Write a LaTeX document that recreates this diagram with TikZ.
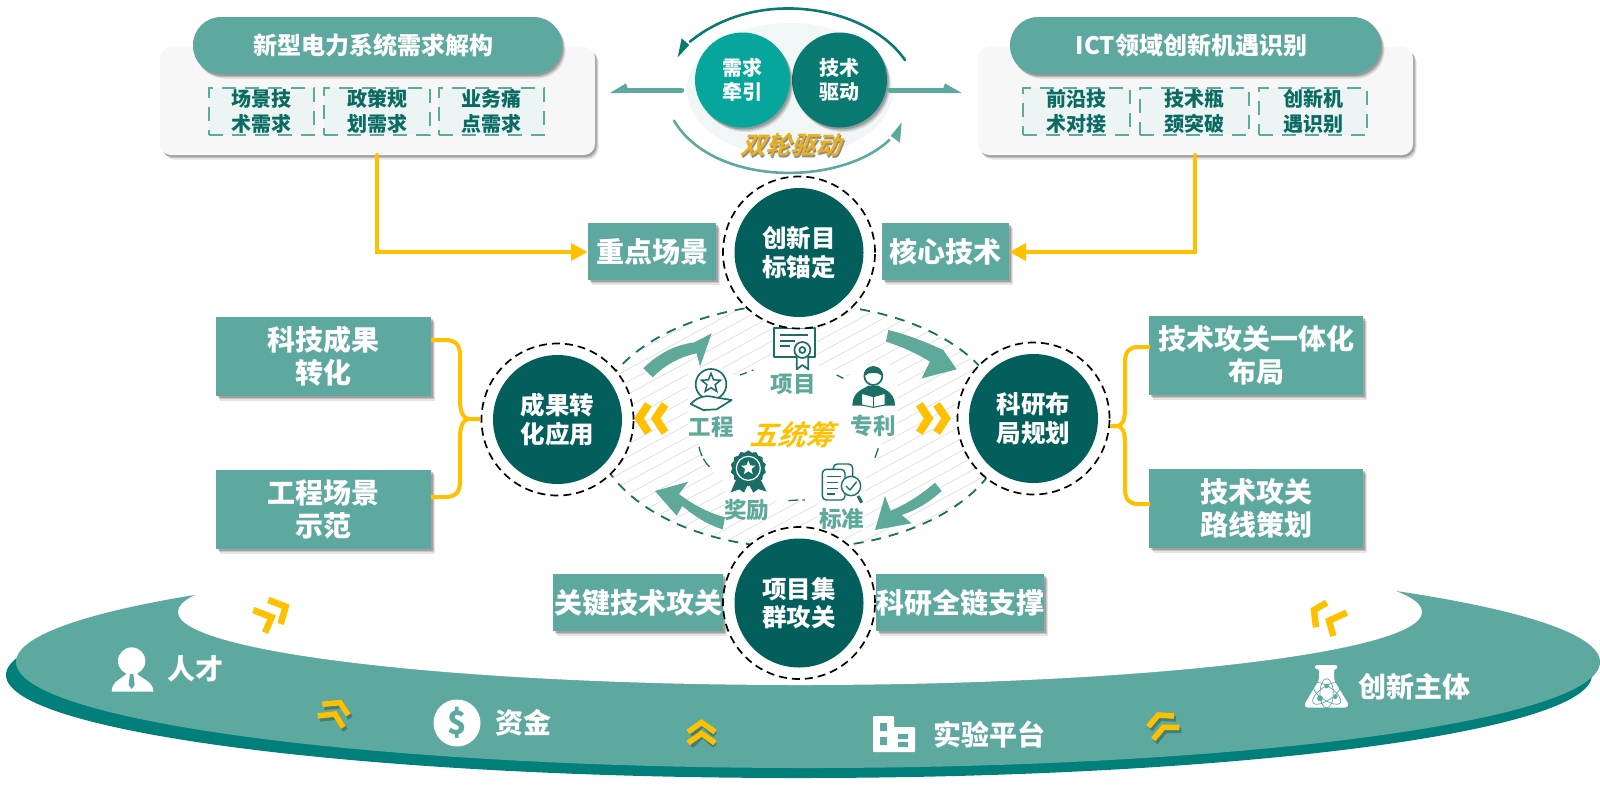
\documentclass[tikz,border=0pt]{standalone}
\usepackage{fontspec}
\usetikzlibrary{shadows,shapes.geometric}
\newfontfamily\cjk{Noto Sans CJK SC}
\newfontfamily\cjkit[FakeSlant=0.35]{Noto Sans CJK SC Bold}
\definecolor{tealbox}{HTML}{5DA9A0}
\definecolor{tealdark}{HTML}{025F5C}
\definecolor{tealring}{HTML}{007F7B}
\definecolor{tealtxt}{HTML}{0B6B63}
\definecolor{tealicon}{HTML}{1B6E66}
\definecolor{tealarrow}{HTML}{5EA99A}
\definecolor{amber}{HTML}{FFC000}
\definecolor{wheelA}{HTML}{06A69C}
\definecolor{wheelB}{HTML}{087A72}
\definecolor{goldtxt}{HTML}{ECB01E}
\tikzset{
  softshadow/.style={
    drop shadow={shadow xshift=3.5pt,shadow yshift=-4.5pt,opacity=.10,fill=black},
    drop shadow={shadow xshift=2.5pt,shadow yshift=-3.2pt,opacity=.14,fill=black},
    drop shadow={shadow xshift=1.5pt,shadow yshift=-2pt,opacity=.18,fill=black}},
  tbox/.style={rectangle,fill=tealbox,softshadow,inner sep=0pt,text=white,align=center,
    font=\cjk\bfseries\fontsize{28}{33}\selectfont},
  panel/.style={rectangle,rounded corners=11pt,fill=black!3,softshadow,inner sep=0pt,minimum height=108pt},
  pill/.style={rectangle,rounded corners=28pt,fill=tealbox,softshadow,inner sep=0pt,minimum height=57pt,text=white,
    font=\cjk\bfseries\fontsize{24}{28}\selectfont},
  dbox/.style={rectangle,fill=tealbox!12,draw=tealbox,line width=1.3pt,dash pattern=on 14pt off 9pt,inner sep=0pt,minimum height=47pt,
    text=tealtxt,align=center,font=\cjk\bfseries\fontsize{20}{25}\selectfont},
  ringc/.style={circle,fill=white,draw=black,line width=1.7pt,dash pattern=on 8pt off 5pt,minimum size=152pt,inner sep=0pt},
  core/.style={circle,fill=tealdark,minimum size=129pt,inner sep=0pt,text=white,align=center,
    font=\cjk\bfseries\fontsize{24.5}{28.5}\selectfont},
  wheel/.style={circle,minimum size=95pt,inner sep=0pt,text=white,align=center,softshadow,
    font=\cjk\bfseries\fontsize{20}{24}\selectfont},
  yline/.style={draw=amber,line width=4pt,line cap=round,line join=round},
  chev/.style={draw=amber,line width=5.5pt,line join=miter},
  chevb/.style={draw=amber,line width=6.5pt,line join=miter},
  chevsh/.style={draw=black,opacity=.25,line width=5.5pt,line join=miter},
  chevw/.style={draw=amber,line width=8pt,line join=miter},
  icon/.style={draw=tealicon,line width=1.7pt,line join=round},
  ilabel/.style={inner sep=0pt,text=tealarrow,font=\cjk\bfseries\fontsize{22.5}{24}\selectfont},
  rlabel/.style={inner sep=0pt,text=white,font=\cjk\bfseries\fontsize{28}{30}\selectfont},
  bigarrow/.style={fill=tealarrow},
}
\begin{document}
\begin{tikzpicture}[x=1pt,y=-1pt]
\useasboundingbox (0,0) rectangle (1600,788);
% base ring
\fill[tealring] (799,675) ellipse [x radius=793,y radius=103];
\fill[tealbox] (808,662) ellipse [x radius=792,y radius=106];
\fill[white] (800,612) ellipse [x radius=622,y radius=73];
% top panels
\node[panel,minimum width=435pt] (lp) at (377.5,101) {};
\node[pill,minimum width=369pt] (lh) at (377.5,45.5) {\hspace*{-8pt}新型电力系统需求解构};
\node[dbox,minimum width=105pt] (l1) at (261.5,111.5) {场景技\\术需求};
\node[dbox,minimum width=106pt] (l2) at (377,111.5) {政策规\\划需求};
\node[dbox,minimum width=105pt] (l3) at (491.5,111.5) {业务痛\\点需求};
\node[panel,minimum width=435pt] (rp) at (1195.5,101) {};
\node[pill,minimum width=371pt] (rh) at (1195.5,45.5) {\hspace*{-8pt}ICT领域创新机遇识别};
\node[dbox,minimum width=107pt] (r1) at (1076.5,111.5) {前沿技\\术对接};
\node[dbox,minimum width=109pt] (r2) at (1194.5,111.5) {技术瓶\\颈突破};
\node[dbox,minimum width=108pt] (r3) at (1313,111.5) {创新机\\遇识别};
% double wheel
\fill[tealbox!9] (790,90) ellipse [x radius=103,y radius=67];
\node[wheel,fill=wheelB] (js) at (839.5,80) {技术\\驱动};
\node[wheel,fill=wheelA] (cq) at (742.5,80) {需求\\牵引};
\begin{scope}[shift={(600,0)},scale=1/3]
  \coordinate (tb) at (915,180); \coordinate (te) at (270,125);
  \coordinate (bb) at (222,362); \coordinate (be) at (868,420);
  \coordinate (la) at (245,270); \coordinate (lb) at (80,270);
  \coordinate (ra) at (870,270); \coordinate (rb) at (1035,270);
  \draw[draw=wheelB,line width=2.6pt,line cap=round] (tb) .. controls (800,15) and (470,-40) .. (te);
  \fill[wheelB] (233,172) -- (245,115) -- (268,135) -- cycle;
  \draw[draw=tealbox,line width=2.6pt,line cap=round] (bb) .. controls (340,560) and (720,560) .. (be);
  \fill[tealbox] (905,367) -- (872,408) -- (900,428) -- cycle;
  \draw[draw=tealbox,line width=5pt,line cap=round] (la) -- (lb);
  \fill[tealbox] (30,279) -- (78,250) -- (88,279) -- cycle;
  \draw[draw=tealbox,line width=5pt,line cap=round] (ra) -- (rb);
  \fill[tealbox] (1085,279) -- (1035,250) -- (1025,279) -- cycle;
\end{scope}
\node[inner sep=0pt,text=black!45] (sdw) at (791.5,146.5) {\cjkit\fontsize{25}{27}\selectfont 双轮驱动};
\node[inner sep=0pt,text=goldtxt] (sl) at (790,145) {\cjkit\fontsize{25}{27}\selectfont 双轮驱动};
% central lens
\begin{scope}
  \clip (800,426) ellipse [x radius=206,y radius=122];
  \foreach \k in {-40,...,40}
    \draw[black!13,line width=.7pt] (560,{426+\k*12.5+130}) -- (1040,{426+\k*12.5-130});
\end{scope}
\draw[draw=tealicon,line width=1.8pt,dash pattern=on 10pt off 8pt] (800,426) ellipse [x radius=206,y radius=122];
\fill[white] (790,432) ellipse [x radius=93,y radius=70];
\begin{scope}[shift={(600,290)},scale=1/3]
  \fill[white] (265,235) rectangle (400,445);
  \fill[white] (515,110) rectangle (650,315);
  \fill[white] (750,225) rectangle (890,440);
  \fill[white] (375,485) rectangle (505,690);
  \fill[white] (655,515) rectangle (795,720);
  % inner dashes
  \draw[tealicon,line width=1.3pt] (420,255) -- (440,248) (455,242) -- (460,240) (710,255) -- (730,265)
    (835,475) -- (825,503) (565,632) -- (595,630) (607,630) -- (615,630);
  \draw[tealicon,line width=1.3pt,dash pattern=on 10pt off 3pt] (297,470) .. controls (303,500) and (318,522) .. (335,537);
  % big arrows
  \fill[bigarrow] (130,235) .. controls (175,190) and (225,165) .. (283,157) -- (335,130) -- (300,230) -- (290,190)
     .. controls (240,200) and (195,225) .. (158,262) -- cycle;
  \fill[bigarrow] (865,120) .. controls (925,135) and (975,155) .. (1030,180) -- (1070,238) -- (965,265) -- (990,215)
     .. controls (950,190) and (905,170) .. (858,155) -- cycle;
  \fill[bigarrow] (1005,578) .. controls (965,612) and (925,640) .. (872,662) -- (855,618) -- (825,720) -- (935,700) -- (905,675)
     .. controls (950,660) and (990,635) .. (1025,603) -- cycle;
  \fill[bigarrow] (375,682) .. controls (325,668) and (280,645) .. (237,612) -- (265,575) -- (165,603) -- (230,677) -- (247,648)
     .. controls (285,680) and (325,705) .. (368,718) -- cycle;
  % amber chevrons
  \draw[chevw] (145,343) -- (117,385) -- (145,428);
  \draw[chevw] (195,343) -- (167,385) -- (195,428);
  \draw[chevw] (958,343) -- (986,385) -- (958,428);
  \draw[chevw] (1010,343) -- (1038,385) -- (1010,428);
  % certificate
  \draw[icon,fill=white] (523,115) rectangle (645,200);
  \draw[icon] (540,135) -- (625,135) (540,152) -- (585,152) (540,168) -- (570,168);
  \draw[icon,fill=white] (590,195) -- (590,238) -- (607,225) -- (625,238) -- (625,195);
  \draw[icon,fill=white] (607,180) circle [radius=24];
  \draw[icon] (607,180) circle [radius=9];
  % reader
  \fill[tealicon] (757,347) .. controls (757,305) and (790,297) .. (805,287) -- (835,287) .. controls (850,297) and (885,305) .. (885,347) -- cycle;
  \draw[icon,fill=white] (820,258) circle [radius=27];
  \fill[tealicon] (793,258) .. controls (793,220) and (847,220) .. (847,258) .. controls (835,245) and (805,245) .. (793,258) -- cycle;
  \draw[icon,fill=white,line width=1pt] (785,310) -- (820,320) -- (855,310) -- (855,345) -- (820,352) -- (785,345) -- cycle;
  \draw[icon,line width=1pt] (820,320) -- (820,352);
  % hand + star
  \draw[icon] (333,283) circle [radius=46];
  \node[star,star points=5,star point ratio=2.3,draw=tealicon,line width=1.5pt,minimum size=20pt,inner sep=0pt] (st1) at (333,280) {};
  \draw[icon,fill=white] (272,342) .. controls (295,318) and (320,315) .. (345,322) -- (395,330) -- (350,358) -- (310,360) -- cycle;
  % rosette
  \fill[tealicon] (410,565) -- (392,607) -- (418,598) -- (432,608) -- (445,580) -- (460,608) -- (475,597) -- (500,605) -- (480,565) -- cycle;
  \node[star,star points=14,star point ratio=1.12,fill=tealicon,minimum size=36pt,inner sep=0pt] (st2) at (445,535) {};
  \draw[draw=white,line width=1.2pt] (445,535) circle [radius=36];
  \node[star,star points=5,star point ratio=2.3,fill=white,minimum size=15pt,inner sep=0pt] (st3) at (445,534) {};
  % standard
  \draw[icon,rounded corners=4pt,line width=1.4pt] (700,522) rectangle (758,580);
  \draw[icon,rounded corners=4pt,fill=white,line width=1.4pt] (667,538) rectangle (735,630);
  \draw[icon,line width=1.2pt] (680,560) -- (722,560) (680,578) -- (715,578) (680,596) -- (715,596) (680,612) -- (705,612);
  \draw[icon,fill=white,line width=1.4pt] (753,588) circle [radius=29];
  \draw[icon,line width=1.4pt] (738,588) -- (750,600) -- (770,575);
  \draw[icon,line width=3pt] (774,618) -- (785,638);
  % labels
  \node[ilabel] (t1) at (580,283) {项目};
  \node[ilabel] (t2) at (333,412) {工程};
  \node[ilabel] (t3) at (820,408) {专利};
  \node[ilabel] (t4) at (440,660) {奖励};
  \node[ilabel] (t5) at (725,688) {标准};
  \node[inner sep=0pt,text=amber] (t6) at (575,435) {\cjkit\fontsize{28}{30}\selectfont 五统筹};
\end{scope}
% small label boxes
\node[tbox,minimum width=128pt,minimum height=57pt] (zd) at (652,251.5) {重点场景};
\node[tbox,minimum width=127pt,minimum height=57pt] (hx) at (945.5,251.5) {核心技术};
\node[tbox,minimum width=215pt,minimum height=79pt] (kj) at (323.5,356.5) {科技成果\\转化};
\node[tbox,minimum width=215pt,minimum height=79pt] (gc) at (323.5,509.5) {工程场景\\示范};
\node[tbox,minimum width=214pt,minimum height=79pt] (yt) at (1256,355.5) {技术攻关一体化\\布局};
\node[tbox,minimum width=214pt,minimum height=79pt] (lx) at (1256,508.5) {技术攻关\\路线策划};
\node[tbox,minimum width=170pt,minimum height=57pt] (gj) at (638,602.5) {关键技术攻关};
\node[tbox,minimum width=168pt,minimum height=57pt] (ky) at (960,602.5) {科研全链支撑};
% main circles
\node[ringc] (c1r) at (799,252.5) {};
\node[core] (c1) at (c1r) {创新目\\标锚定};
\node[ringc] (c2r) at (557.5,419.5) {};
\node[core] (c2) at (c2r) {成果转\\化应用};
\node[ringc] (c3r) at (1033.5,418.5) {};
\node[core] (c3) at (c3r) {科研布\\局规划};
\node[ringc] (c4r) at (799,603) {};
\node[core] (c4) at (c4r) {项目集\\群攻关};
% amber connectors
\coordinate (ls) at (377,155); \coordinate (lc) at (377,252); \coordinate (lt) at (575,252);
\coordinate (rs) at (1195,155); \coordinate (rc) at (1195,252); \coordinate (rt) at (1022,252);
\draw[yline,line join=miter] (ls) -- (lc) -- (lt);
\draw[yline,line join=miter] (rs) -- (rc) -- (rt);
\fill[amber] (587.5,252) -- (571,243) -- (571,261) -- cycle;
\fill[amber] (1009.5,252) -- (1026,243) -- (1026,261) -- cycle;
\coordinate (bl1) at (431,340); \coordinate (bl2) at (431,497); \coordinate (blm) at (480,419);
\draw[yline,line cap=butt] (bl1) -- (445,340) .. controls (456,340) and (460,345) .. (460,356) -- (460,400)
   .. controls (460,412) and (463,419) .. (470,419) -- (blm);
\draw[yline,line cap=butt] (bl2) -- (445,497) .. controls (456,497) and (460,492) .. (460,481) -- (460,438)
   .. controls (460,426) and (463,419) .. (470,419);
\coordinate (br1) at (1150,347); \coordinate (br2) at (1150,504); \coordinate (brm) at (1110,426);
\draw[yline,line cap=butt] (br1) -- (1138,347) .. controls (1129,347) and (1125,352) .. (1125,362) -- (1125,408)
   .. controls (1125,420) and (1123,426) .. (1116,426) -- (brm);
\draw[yline,line cap=butt] (br2) -- (1138,504) .. controls (1129,504) and (1125,499) .. (1125,489) -- (1125,444)
   .. controls (1125,432) and (1123,426) .. (1116,426);
% ring chevrons
\begin{scope}[shift={(90,590)},scale=1/3]
  \draw[chevb] (490,60) -- (545,82) -- (525,128);
  \draw[chevb] (535,30) -- (587,50) -- (572,102);
  \draw[chevsh] (703,352) -- (756,347) -- (781,384);
  \draw[chevsh] (689,387) -- (741,381) -- (766,421);
  \draw[chev] (697,343) -- (750,338) -- (775,375);
  \draw[chev] (683,378) -- (735,372) -- (760,412);
  % person
  \fill[white] (125,213) ellipse [x radius=41,y radius=41];
  \fill[white] (65,305) .. controls (65,272) and (98,266) .. (110,250) -- (140,250) .. controls (152,266) and (190,272) .. (190,305) -- cycle;
  \fill[tealbox] (120,252) -- (130,252) -- (134,285) -- (125,297) -- (116,285) -- cycle;
\end{scope}
\begin{scope}[shift={(1130,590)},scale=1/3]
  \draw[chevb] (590,38) -- (552,60) -- (558,112);
  \draw[chevb] (650,68) -- (597,92) -- (610,138);
  \draw[chevsh] (61,419) -- (91,384) -- (138,387);
  \draw[chevsh] (76,457) -- (106,421) -- (154,421);
  \draw[chev] (55,410) -- (85,375) -- (132,378);
  \draw[chev] (70,448) -- (100,412) -- (148,412);
  % flask
  \fill[white,rounded corners=2pt] (555,225) -- (622,225) -- (622,237) -- (612,237) -- (612,270) -- (657,345) -- (650,353) -- (528,353) -- (522,345) -- (567,270) -- (567,237) -- (555,237) -- cycle;
  \draw[tealbox,line width=.7pt] (590,310) ellipse [x radius=50,y radius=20,rotate=35];
  \draw[tealbox,line width=.7pt] (590,310) ellipse [x radius=50,y radius=20,rotate=-35];
  \draw[tealbox,line width=.7pt] (590,310) ellipse [x radius=20,y radius=44];
  \fill[tealbox] (590,288) circle [radius=7] (570,325) circle [radius=9] (616,320) circle [radius=7];
\end{scope}
\draw[chevsh] (691,735) -- (703,724) -- (715,735);
\draw[chevsh] (691,746) -- (703,735) -- (715,746);
\draw[chev] (688,732) -- (701.5,722.5) -- (715,732);
\draw[chev] (688,743) -- (701.5,733.5) -- (715,743);
% ring labels
\node[rlabel] (a1) at (195,669) {人才};
\node[circle,fill=white,minimum width=47pt,inner sep=0pt,text=tealbox,font=\cjk\bfseries\fontsize{32}{32}\selectfont] (a2i) at (457,723) {\$};
\node[rlabel] (a2) at (523,723) {资金};
\node[rlabel] (a3) at (989,735) {实验平台};
\fill[white,rounded corners=1pt] (873,716) rectangle (894,752);
\fill[white,rounded corners=1pt] (893,727) rectangle (915,752);
\fill[tealbox] (880,723) rectangle (887,731) (880,737) rectangle (887,745) (898,734) rectangle (908,739) (898,742) rectangle (908,747);
\node[rlabel] (a4) at (1414,687) {创新主体};
\end{tikzpicture}
\end{document}
